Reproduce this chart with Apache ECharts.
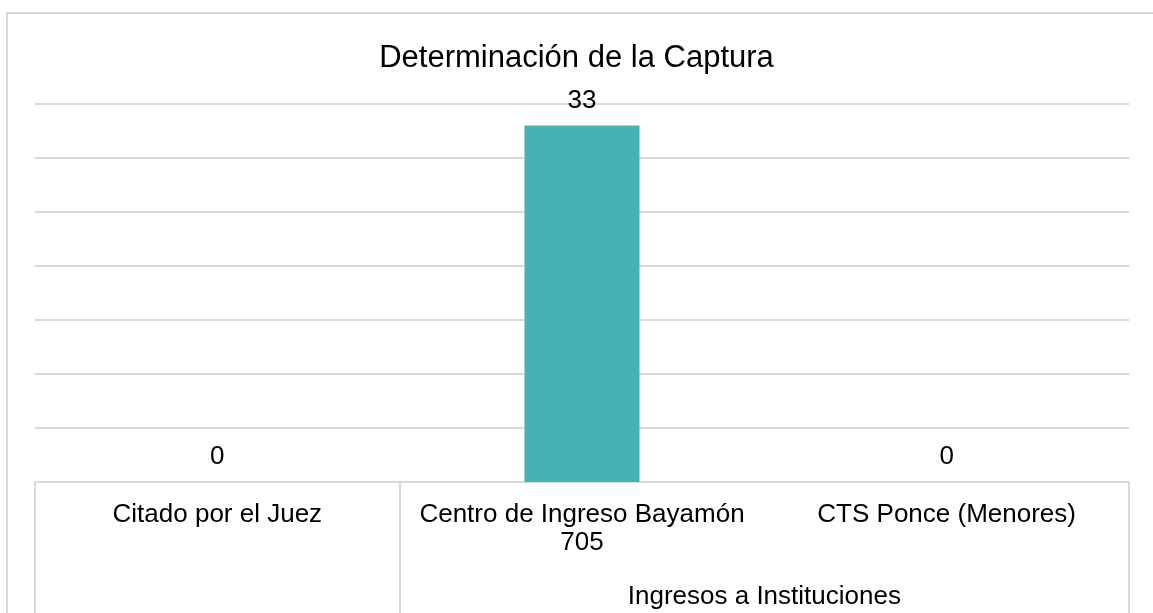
<!DOCTYPE html>
<html>
<head>
<meta charset="utf-8">
<script src="https://cdn.jsdelivr.net/npm/echarts@6/dist/echarts.min.js"></script>
<style>
  html, body { margin: 0; padding: 0; background: #fff; }
  #chart { width: 1153px; height: 613px; }
</style>
</head>
<body>
<div id="chart"></div>
<script>
// data
var categories = ['Citado por el Juez', 'Centro de Ingreso Bayamón\n705', 'CTS Ponce (Menores)'];
var values = [0, 33, 0];
var groupLabel = 'Ingresos a Instituciones';
var groupCenter = 2;        // group spans category 1..2 -> centre at 2 on a 0..3 scale
var boxDividers = [0, 1, 3]; // vertical lines of the label box

var chart = echarts.init(document.getElementById('chart'));
var font = 'Liberation Sans, Arial, sans-serif';

chart.setOption({
  animation: false,
  title: {
    text: 'Determinación de la Captura',
    left: 'center',
    top: 38,
    textStyle: { fontFamily: font, fontSize: 31, fontWeight: 'normal', color: '#000' }
  },
  grid: { left: 35, right: 24, top: 104, bottom: 131, containLabel: false },
  xAxis: [
    {
      type: 'category',
      data: categories,
      position: 'bottom',
      axisLine: { show: true, lineStyle: { color: '#D9D9D9', width: 2 } },
      axisTick: { show: false },
      axisLabel: {
        interval: 0,
        margin: 19,
        fontFamily: font,
        fontSize: 26,
        lineHeight: 28,
        color: '#000'
      }
    },
    {
      type: 'value',
      min: 0,
      max: 3,
      position: 'bottom',
      offset: 0,
      axisLine: { show: false },
      splitLine: { show: false },
      axisTick: {
        show: true,
        inside: false,
        length: 140,
        customValues: boxDividers,
        lineStyle: { color: '#D9D9D9', width: 2 }
      },
      axisLabel: {
        show: true,
        customValues: [groupCenter],
        formatter: function () { return groupLabel; },
        margin: 101,
        fontFamily: font,
        fontSize: 26,
        lineHeight: 28,
        color: '#000'
      }
    }
  ],
  yAxis: {
    type: 'value',
    min: 0,
    max: 35,
    interval: 5,
    axisLine: { show: false },
    axisTick: { show: false },
    axisLabel: { show: false },
    splitLine: { lineStyle: { color: '#D9D9D9', width: 2 } }
  },
  series: [
    {
      type: 'bar',
      xAxisIndex: 0,
      data: values,
      barWidth: 115,
      itemStyle: { color: '#47B2B5' },
      label: {
        show: true,
        position: 'top',
        distance: 12,
        fontFamily: font,
        fontSize: 26,
        color: '#000'
      }
    }
  ],
  graphic: [
    {
      type: 'polyline',
      silent: true,
      shape: { points: [[7, 613], [7, 13], [1153, 13]] },
      style: { stroke: '#D9D9D9', lineWidth: 2, fill: null }
    }
  ]
});
</script>
</body>
</html>
